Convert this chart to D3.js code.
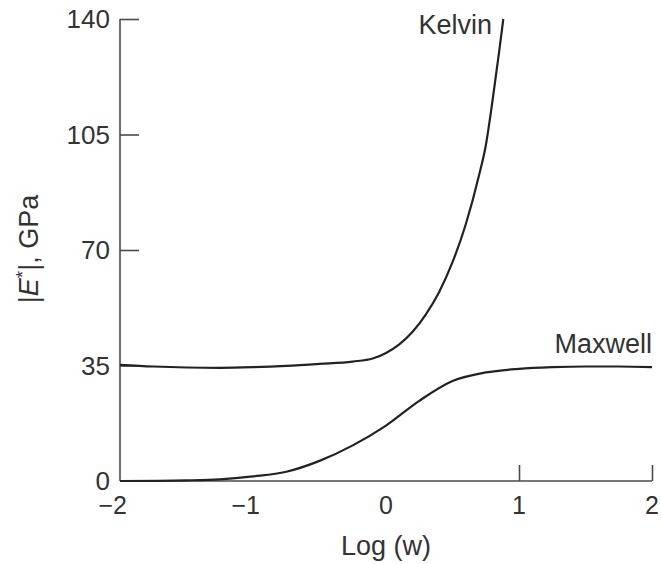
<!DOCTYPE html>
<html>
<head>
<meta charset="utf-8">
<script src="https://cdn.jsdelivr.net/npm/d3@7"></script>
<style>
  html, body { margin: 0; padding: 0; background: #fff; }
  svg { display: block; font-family: "Liberation Sans", Arial, Helvetica, sans-serif; }
</style>
</head>
<body>
<svg id="chart" width="661" height="564"></svg>
<script>
// Complex modulus |E*| against log frequency for the two spring–dashpot models
const logW = [-2, -1.75, -1.5, -1.25, -1, -0.75, -0.5, -0.25, -0.1, 0, 0.1, 0.2, 0.3, 0.4, 0.5, 0.6, 0.7, 0.75, 0.8, 0.85, 0.882];
const kelvin = [35.2, 34.7, 34.4, 34.3, 34.5, 34.9, 35.5, 36.2, 37.1, 38.8, 41.4, 45.2, 50.5, 57.3, 66.3, 77.8, 92.7, 101.6, 115, 129.9, 140];

const logWMax = [-2, -1.5, -1.25, -1, -0.75, -0.5, -0.25, 0, 0.25, 0.5, 0.75, 1, 1.25, 1.5, 1.75, 2];
const maxwell = [0, 0.2, 0.5, 1.4, 2.8, 6.1, 10.8, 16.8, 24.3, 30.3, 32.9, 34.0, 34.5, 34.7, 34.7, 34.5];

const xTicks = [-2, -1, 0, 1, 2];
const xTickMarks = [1, 2];
const yTicks = [0, 35, 70, 105, 140];
const yTickMarks = [35, 70, 105, 140];

const svg = d3.select("#chart");
const x = d3.scaleLinear().domain([-2, 2]).range([120, 652]);
const y = d3.scaleLinear().domain([0, 140]).range([481, 19]);

const axisColor = "#4a4a4a";
const textColor = "#333";

// Axis lines
svg.append("line").attr("x1", x(-2)).attr("x2", x(2)).attr("y1", y(0)).attr("y2", y(0))
  .attr("stroke", axisColor).attr("stroke-width", 1.6);
svg.append("line").attr("x1", x(-2)).attr("x2", x(-2)).attr("y1", y(0)).attr("y2", y(140))
  .attr("stroke", axisColor).attr("stroke-width", 1.6);

// Inward tick marks
const xAxis = d3.axisBottom(x).tickValues(xTickMarks).tickSize(-16).tickFormat("");
const gx = svg.append("g").attr("transform", `translate(0,${y(0)})`).call(xAxis);
gx.select(".domain").remove();
gx.selectAll(".tick line").attr("stroke", axisColor).attr("stroke-width", 1.6);

const yAxis = d3.axisLeft(y).tickValues(yTickMarks).tickSize(-19).tickFormat("");
const gy = svg.append("g").attr("transform", `translate(${x(-2)},0)`).call(yAxis);
gy.select(".domain").remove();
gy.selectAll(".tick line").attr("stroke", axisColor).attr("stroke-width", 1.6);

// Tick labels
const fmt = d => (d < 0 ? "\u2212" : "") + Math.abs(d);
const xl = svg.append("g").attr("font-size", 25).attr("fill", textColor);
xl.selectAll("text").data(xTicks).join("text")
  .attr("x", d => x(d)).attr("y", 514)
  .attr("text-anchor", "middle")
  .text(fmt)
  .each(function(d) {
    // keep the digit centred on the tick, minus sign hanging to the left
    if (d < 0) {
      const full = this.getComputedTextLength();
      const t = d3.select(this);
      t.text(String(Math.abs(d)));
      const digit = this.getComputedTextLength();
      t.text(fmt(d));
      t.attr("dx", -(full - digit) / 2);
    }
  });

const yl = svg.append("g").attr("font-size", 26).attr("fill", textColor);
yl.selectAll("text").data(yTicks).join("text")
  .attr("x", 110).attr("y", d => y(d)).attr("dy", "0.35em")
  .attr("text-anchor", "end")
  .text(d => d);

// Axis titles
svg.append("text").attr("x", x(0)).attr("y", 555).attr("text-anchor", "middle")
  .attr("font-size", 27).attr("fill", textColor).text("Log (w)");

const yt = svg.append("text").attr("transform", "translate(38,249) rotate(-90)")
  .attr("text-anchor", "middle").attr("font-size", 27).attr("fill", textColor);
yt.append("tspan").text("|");
yt.append("tspan").attr("font-style", "italic").text("E");
yt.append("tspan").attr("font-size", 19).attr("dy", -9).text("*");
yt.append("tspan").attr("dy", 9).text("|, GPa");

// Curves
const line = d3.line().x(d => x(d[0])).y(d => y(d[1])).curve(d3.curveMonotoneX);
svg.append("path").datum(d3.zip(logW, kelvin)).attr("d", line)
  .attr("fill", "none").attr("stroke", "#222").attr("stroke-width", 2.2);
svg.append("path").datum(d3.zip(logWMax, maxwell)).attr("d", line)
  .attr("fill", "none").attr("stroke", "#222").attr("stroke-width", 2.2);

// Curve labels
svg.append("text").attr("x", 492).attr("y", 34).attr("text-anchor", "end")
  .attr("font-size", 27).attr("fill", textColor).text("Kelvin");
svg.append("text").attr("x", 652).attr("y", 353).attr("text-anchor", "end")
  .attr("font-size", 27).attr("fill", textColor).text("Maxwell");
</script>
</body>
</html>
